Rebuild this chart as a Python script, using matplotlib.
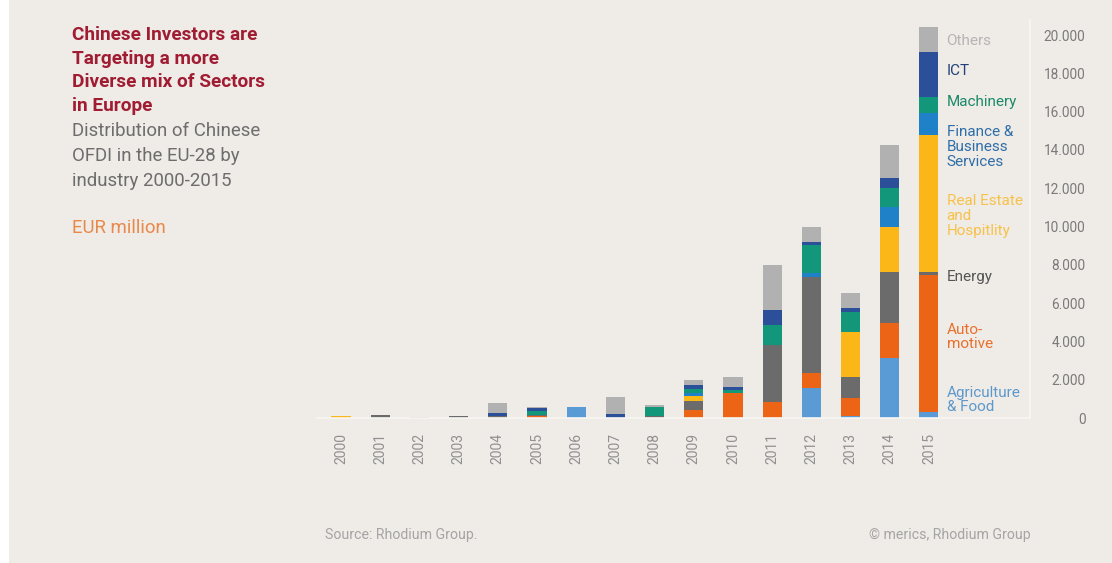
import matplotlib.pyplot as plt
from matplotlib import font_manager
from matplotlib.patches import Rectangle

# pick a narrow face if there is one
names = {f.name for f in font_manager.fontManager.ttflist}
narrow = next((n for n in ['Liberation Sans Narrow', 'Roboto', 'Lato'] if n in names), 'DejaVu Sans')
plt.rcParams['font.family'] = [narrow, 'DejaVu Sans']

years = [str(y) for y in range(2000, 2016)]

sectors = ['Agriculture\n& Food', 'Auto-\nmotive', 'Energy', 'Real Estate\nand\nHospitlity',
           'Finance &\nBusiness\nServices', 'Machinery', 'ICT', 'Others']

agri = [0, 0, 0, 0, 0, 0, 575, 0, 0, 0, 0, 0, 1570, 100, 3130, 310]
auto = [0, 0, 0, 0, 0, 120, 0, 0, 0, 435, 1300, 840, 780, 940, 1830, 7150]
energy = [0, 140, 0, 120, 80, 50, 0, 0, 100, 435, 0, 2980, 5010, 1100, 2660, 160]
real_estate = [110, 0, 0, 0, 0, 0, 0, 0, 0, 300, 0, 0, 0, 2350, 2350, 7150]
finance = [0, 0, 0, 0, 0, 0, 0, 0, 0, 140, 0, 0, 200, 0, 1040, 1150]
machinery = [0, 0, 0, 0, 0, 175, 0, 0, 480, 210, 160, 1040, 1470, 1040, 990, 840]
ict = [0, 0, 0, 0, 200, 175, 0, 200, 0, 225, 160, 780, 160, 210, 520, 2350]
others = [0, 0, 50, 0, 520, 50, 0, 880, 100, 260, 520, 2350, 780, 780, 1720, 1300]

series = [agri, auto, energy, real_estate, finance, machinery, ict, others]
bar_colors = ['#5b9bd5', '#ec6516', '#6b6b6b', '#fbb617', '#1f82c9', '#12977a', '#2b4f99', '#b1b1b1']
text_colors = ['#5c98cc', '#e9702c', '#555555', '#f7c24a', '#2f6ea8', '#1b8a69', '#23407a', '#b5b5b5']
label_y = [940, 4230, 7360, 10550, 14150, 16500, 18120, 19700]

yticks = [0, 2000, 4000, 6000, 8000, 10000, 12000, 14000, 16000, 18000, 20000]
ytick_labels = ['0', '2.000', '4.000', '6.000', '8.000', '10.000', '12.000', '14.000',
                '16.000', '18.000', '20.000']

bg = '#efebe7'
W, H = 1112, 563
fig = plt.figure(figsize=(W / 100, H / 100), dpi=100, facecolor='white')
fig.patches.append(Rectangle((9 / W, 0), 1, 1, transform=fig.transFigure,
                             facecolor=bg, edgecolor='none', zorder=-10))

ax = fig.add_axes([317.5 / W, 1 - 418 / H, (1030 - 317.5) / W, 398.3 / H])
ax.set_facecolor(bg)
ax.patch.set_alpha(0)

x = list(range(len(years)))
bottom = [0] * len(years)
for vals, c in zip(series, bar_colors):
    ax.bar(x, vals, bottom=bottom, width=0.49, color=c, linewidth=0)
    bottom = [b + v for b, v in zip(bottom, vals)]

# sector names beside the 2015 bar
for name, yv, c in zip(sectors, label_y, text_colors):
    ax.text(15.45, yv, name, color=c, fontsize=11, va='center', ha='left',
            linespacing=1.05)

ax.set_xlim(-0.6, 17.58)
ax.set_ylim(0, 20800)
ax.set_xticks(x)
ax.set_xticklabels(years, rotation=90, color='#909090', fontsize=10)
ax.yaxis.tick_right()
ax.set_yticks(yticks)
ax.set_yticklabels(ytick_labels, color='#7a7a7a', fontsize=9.8, ha='right')
ax.tick_params(axis='y', length=0, pad=40)
ax.tick_params(axis='x', length=0, pad=11)

for s in ['top', 'left']:
    ax.spines[s].set_visible(False)
for s in ['bottom', 'right']:
    ax.spines[s].set_color('#f8f6f3')
    ax.spines[s].set_linewidth(1.2)

title = ['Chinese Investors are', 'Targeting a more', 'Diverse mix of Sectors', 'in Europe']
for i, line in enumerate(title):
    fig.text(72 / W, 1 - (35 + 23.7 * i) / H, line, color='#a01c33', fontsize=13.7,
             fontweight='bold', va='center')
subtitle = ['Distribution of Chinese', 'OFDI in the EU-28 by', 'industry 2000-2015']
for i, line in enumerate(subtitle):
    fig.text(72 / W, 1 - (131 + 25 * i) / H, line, color='#6d6d6d', fontsize=13.4,
             va='center')
fig.text(72 / W, 1 - 228 / H, 'EUR million', color='#e8894a', fontsize=13.4, va='center')

fig.text(325 / W, 1 - 535 / H, 'Source: Rhodium Group.', color='#a5a5a5', fontsize=10.2,
         va='center')
fig.text(1031 / W, 1 - 535 / H, '© merics, Rhodium Group', color='#a5a5a5', fontsize=10.2,
         va='center', ha='right')

fig.savefig('out.png', dpi=100, facecolor='white')
